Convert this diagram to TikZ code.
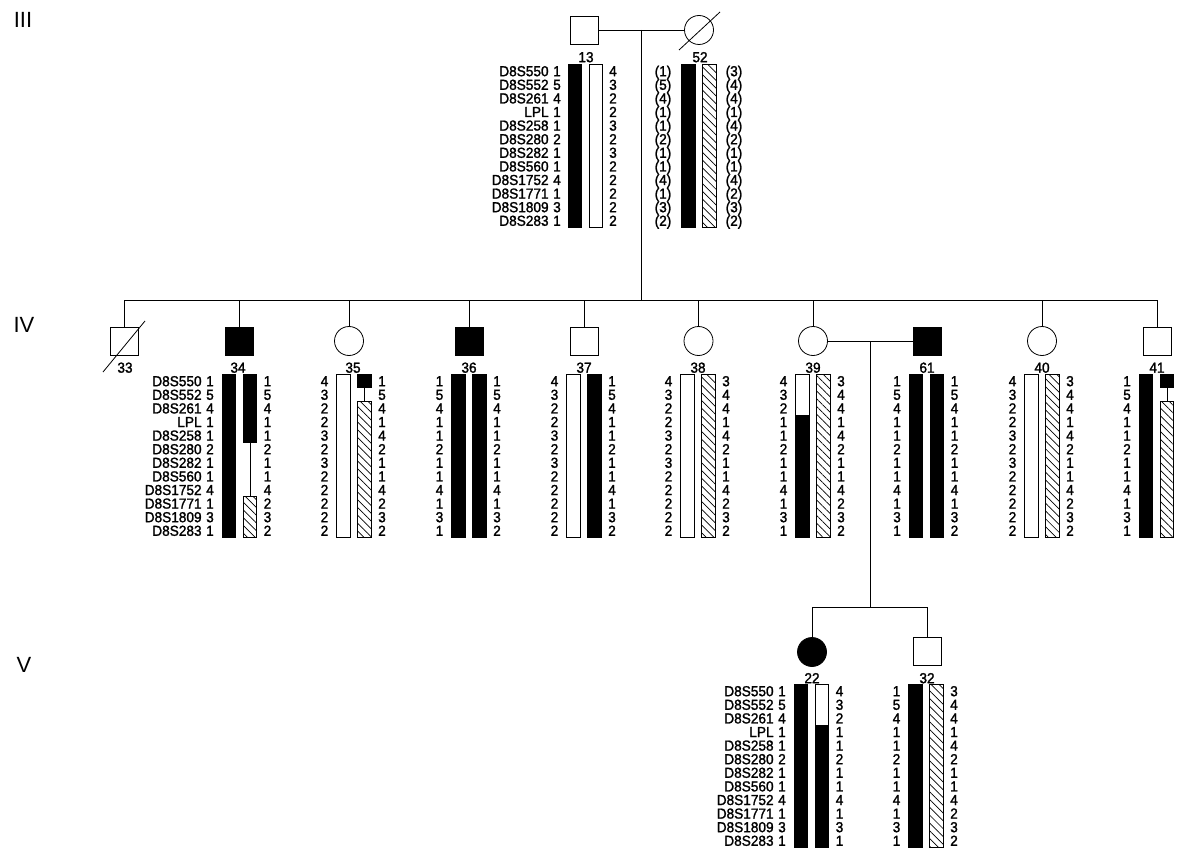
\documentclass[tikz,border=0pt]{standalone}
\usepackage{fontspec}
\setmainfont{Liberation Sans}
\newfontfamily\hapfont[FakeStretch=0.94,FakeBold=1.5]{Liberation Sans}
\usetikzlibrary{calc,patterns.meta}

\def\rowh{13.6}
% alleles of one haplotype: name, x, y of first row, list
\newcommand{\alle}[4]{%
  \foreach \a [count=\i] in {#4}
    \node[num] (#1-\i) at (#2,{#3+(\i-1)*\rowh}) {\a};}
% marker names: name, x, y of first row
\newcommand{\markernames}[3]{%
  \foreach \m [count=\i] in {D8S550,D8S552,D8S261,LPL,D8S258,D8S280,D8S282,D8S560,D8S1752,D8S1771,D8S1809,D8S283}
    \node[marker] (#1-\i) at (#2,{#3+(\i-1)*\rowh}) {\m};}
% haplotype bar: x, y of first row, from row, to row, style
\newcommand{\hapbar}[5]{%
  \draw[#5] ({#1-6.75},{#2+(#3-1.5)*\rowh}) rectangle ({#1+6.75},{#2+(#4-0.5)*\rowh});}
\newcommand{\hapgap}[4]{%
  \draw ({#1},{#2+(#3-1.5)*\rowh}) -- ({#1},{#2+(#4-0.5)*\rowh});}

\begin{document}
\begin{tikzpicture}[x=1pt,y=-1pt,line width=0.8pt,
    num/.style={inner sep=0,text height=10.4pt,text depth=0pt,font=\hapfont\fontsize{14.5}{15}\selectfont},
    marker/.style={num,anchor=east},
    gen/.style={inner sep=0,font=\fontsize{22}{24}\selectfont},
    male/.style={draw,rectangle,minimum size=28pt,inner sep=0},
    female/.style={draw,circle,minimum size=29pt,inner sep=0},
    sick/.style={fill=black},
    blk/.style={fill=black},
    wht/.style={fill=white},
    hat/.style={pattern={Lines[angle=-45,distance=5.5pt,line width=0.7pt]}}]
\useasboundingbox (0,0) rectangle (1182,850);

\node[gen] (g3) at (23,20) {III};
\node[gen] (g4) at (24,325) {IV};
\node[gen] (g5) at (24,665) {V};

% generation III
\node[male] (i13) at (584,30) {};
\node[female] (i52) at (699,30) {};
\draw ([shift={(-20,20)}]i52.center) -- ([shift={(21,-18)}]i52.center);
\draw (i13) -- (i52);
\coordinate (d3) at ($(i13.east)!0.5!(i52.west)$);
\draw (d3) -- (d3 |- 0,300) coordinate (s4);
\node[num] (n13) at (586,57) {13};
\node[num] (n52) at (700,57) {52};

\markernames{m3}{549}{71}
\hapbar{575}{71}{1}{12}{blk}
\hapbar{596}{71}{1}{12}{wht}
\alle{a13}{557}{71}{1,5,4,1,1,2,1,1,4,1,3,1}
\alle{b13}{613}{71}{4,3,2,2,3,2,3,2,2,2,2,2}
\hapbar{688.5}{71}{1}{12}{blk}
\hapbar{709.5}{71}{1}{12}{hat}
\alle{a52}{663}{71}{(1),(5),(4),(1),(1),(2),(1),(1),(4),(1),(3),(2)}
\alle{b52}{734}{71}{(3),(4),(4),(1),(4),(2),(1),(1),(4),(2),(3),(2)}

% generation IV
\node[male] (i33) at (124,341) {};
\draw ([shift={(-21,31)}]i33.center) -- ([shift={(21,-20)}]i33.center);
\node[male,sick] (i34) at (239,341) {};
\node[female] (i35) at (349,341) {};
\node[male,sick] (i36) at (469.5,341) {};
\node[male] (i37) at (584,341) {};
\node[female] (i38) at (698.5,341) {};
\node[female] (i39) at (813,341) {};
\node[male,sick] (i61) at (927,341) {};
\node[female] (i40) at (1042,341) {};
\node[male] (i41) at (1157,341) {};
\draw (i33.north) -- (i33.north |- s4) -- (i41.north |- s4) -- (i41.north);
\foreach \c in {34,...,40}
  \draw (i\c.north) -- (i\c.north |- s4);
\draw (i39) -- (i61);
\coordinate (d4) at ($(i39.east)!0.5!(i61.west)$);
\draw (d4) -- (d4 |- 0,607) coordinate (s5);

\foreach \c/\x in {33/125,34/238,35/353,36/469,37/584,38/698,39/813,61/927,40/1042,41/1157}
  \node[num] (n\c) at (\x,367.5) {\c};

\markernames{m4}{202}{381}
\hapbar{229}{381}{1}{12}{blk}
\hapbar{250}{381}{1}{5}{blk}
\hapgap{250}{381}{6}{9}
\hapbar{250}{381}{10}{12}{hat}
\alle{a34}{210}{381}{1,5,4,1,1,2,1,1,4,1,3,1}
\alle{b34}{267.5}{381}{1,5,4,1,1,2,1,1,4,2,3,2}

\hapbar{343.5}{381}{1}{12}{wht}
\hapbar{364.5}{381}{1}{1}{blk}
\hapgap{364.5}{381}{2}{2}
\hapbar{364.5}{381}{3}{12}{hat}
\alle{a35}{324.5}{381}{4,3,2,2,3,2,3,2,2,2,2,2}
\alle{b35}{382}{381}{1,5,4,1,4,2,1,1,4,2,3,2}

\hapbar{458.5}{381}{1}{12}{blk}
\hapbar{479.5}{381}{1}{12}{blk}
\alle{a36}{439.5}{381}{1,5,4,1,1,2,1,1,4,1,3,1}
\alle{b36}{497}{381}{1,5,4,1,1,2,1,1,4,1,3,2}

\hapbar{573.5}{381}{1}{12}{wht}
\hapbar{594.5}{381}{1}{12}{blk}
\alle{a37}{554.5}{381}{4,3,2,2,3,2,3,2,2,2,2,2}
\alle{b37}{612}{381}{1,5,4,1,1,2,1,1,4,1,3,2}

\hapbar{687.5}{381}{1}{12}{wht}
\hapbar{708.5}{381}{1}{12}{hat}
\alle{a38}{668.5}{381}{4,3,2,2,3,2,3,2,2,2,2,2}
\alle{b38}{726}{381}{3,4,4,1,4,2,1,1,4,2,3,2}

\hapbar{802.5}{381}{1}{3}{wht}
\hapbar{802.5}{381}{4}{12}{blk}
\hapbar{823.5}{381}{1}{12}{hat}
\alle{a39}{783.5}{381}{4,3,2,1,1,2,1,1,4,1,3,1}
\alle{b39}{841}{381}{3,4,4,1,4,2,1,1,4,2,3,2}

\hapbar{916}{381}{1}{12}{blk}
\hapbar{937}{381}{1}{12}{blk}
\alle{a61}{897}{381}{1,5,4,1,1,2,1,1,4,1,3,1}
\alle{b61}{954.5}{381}{1,5,4,1,1,2,1,1,4,1,3,2}

\hapbar{1031.5}{381}{1}{12}{wht}
\hapbar{1052.5}{381}{1}{12}{hat}
\alle{a40}{1012.5}{381}{4,3,2,2,3,2,3,2,2,2,2,2}
\alle{b40}{1070}{381}{3,4,4,1,4,2,1,1,4,2,3,2}

\hapbar{1146}{381}{1}{12}{blk}
\hapbar{1167}{381}{1}{1}{blk}
\hapgap{1167}{381}{2}{2}
\hapbar{1167}{381}{3}{12}{hat}
\alle{a41}{1127}{381}{1,5,4,1,1,2,1,1,4,1,3,1}

% generation V
\node[female,sick] (i22) at (812,652) {};
\node[male] (i32) at (927,651) {};
\draw (i22.north) -- (i22.north |- s5) -- (i32.north |- s5) -- (i32.north);
\node[num] (n22) at (812,678) {22};
\node[num] (n32) at (927,678) {32};

\markernames{m5}{774}{691}
\hapbar{801}{691}{1}{12}{blk}
\hapbar{822}{691}{1}{3}{wht}
\hapbar{822}{691}{4}{12}{blk}
\alle{a22}{782}{691}{1,5,4,1,1,2,1,1,4,1,3,1}
\alle{b22}{839.5}{691}{4,3,2,1,1,2,1,1,4,1,3,1}
\hapbar{915.5}{691}{1}{12}{blk}
\hapbar{936.5}{691}{1}{12}{hat}
\alle{a32}{896.5}{691}{1,5,4,1,1,2,1,1,4,1,3,1}
\alle{b32}{954}{691}{3,4,4,1,4,2,1,1,4,2,3,2}
\end{tikzpicture}
\end{document}
